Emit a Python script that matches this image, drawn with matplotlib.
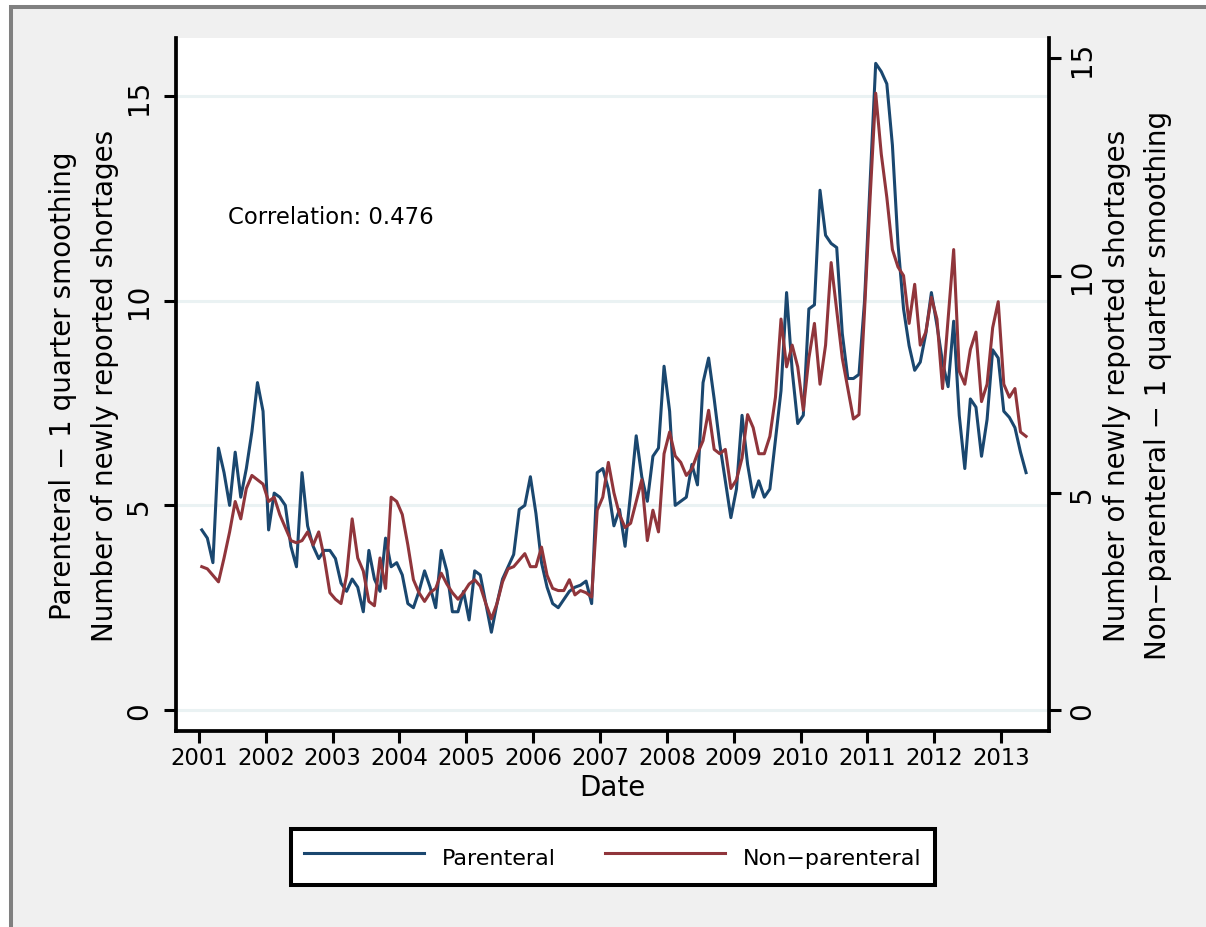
import numpy as np
import matplotlib
matplotlib.use("Agg")
import matplotlib.pyplot as plt
from matplotlib.patches import Rectangle

# ---- data (monthly, Jan 2001 - May 2013) ----
parenteral = [
    4.4, 4.2, 3.6, 6.4, 5.8, 5.0, 6.3, 5.2, 5.9, 6.8, 8.0, 7.3,
    4.4, 5.3, 5.2, 5.0, 4.0, 3.5, 5.8, 4.5, 4.0, 3.7, 3.9, 3.9,
    3.7, 3.1, 2.9, 3.2, 3.0, 2.4, 3.9, 3.2, 2.9, 4.2, 3.5, 3.6,
    3.3, 2.6, 2.5, 2.9, 3.4, 3.0, 2.5, 3.9, 3.4, 2.4, 2.4, 2.9,
    2.2, 3.4, 3.3, 2.6, 1.9, 2.6, 3.2, 3.5, 3.8, 4.9, 5.0, 5.7,
    4.8, 3.6, 3.0, 2.6, 2.5, 2.7, 2.9, 3.0, 3.05, 3.15, 2.6, 5.8,
    5.9, 5.4, 4.5, 4.9, 4.0, 5.3, 6.7, 5.7, 5.1, 6.2, 6.4, 8.4,
    7.3, 5.0, 5.1, 5.2, 6.0, 5.5, 8.0, 8.6, 7.6, 6.5, 5.6, 4.7,
    5.4, 7.2, 6.0, 5.2, 5.6, 5.2, 5.4, 6.6, 7.8, 10.2, 8.3, 7.0,
    7.2, 9.8, 9.9, 12.7, 11.6, 11.4, 11.3, 9.2, 8.1, 8.1, 8.2, 10.0,
    12.9, 15.8, 15.6, 15.3, 13.8, 11.4, 9.8, 8.9, 8.3, 8.5, 9.2, 10.2,
    9.4, 8.5, 7.9, 9.5, 7.2, 5.9, 7.6, 7.4, 6.2, 7.1, 8.8, 8.6,
    7.3, 7.15, 6.9, 6.3, 5.8,
]
non_parenteral = [
    3.3, 3.25, 3.1, 2.95, 3.5, 4.1, 4.8, 4.4, 5.1, 5.4, 5.3, 5.2,
    4.8, 4.9, 4.5, 4.2, 3.9, 3.85, 3.9, 4.1, 3.8, 4.1, 3.5, 2.7,
    2.55, 2.45, 3.1, 4.4, 3.5, 3.2, 2.5, 2.4, 3.5, 2.8, 4.9, 4.8,
    4.5, 3.8, 3.0, 2.7, 2.5, 2.7, 2.8, 3.15, 2.9, 2.7, 2.55, 2.7,
    2.9, 3.0, 2.85, 2.45, 2.1, 2.45, 2.95, 3.25, 3.3, 3.45, 3.6, 3.3,
    3.3, 3.75, 3.1, 2.8, 2.75, 2.75, 3.0, 2.65, 2.75, 2.7, 2.6, 4.6,
    4.9, 5.7, 5.0, 4.5, 4.2, 4.3, 4.8, 5.3, 3.9, 4.6, 4.1, 5.9,
    6.4, 5.85, 5.7, 5.4, 5.55, 5.9, 6.2, 6.9, 6.0, 5.9, 6.0, 5.1,
    5.3, 5.8, 6.8, 6.5, 5.9, 5.9, 6.3, 7.2, 9.0, 7.9, 8.4, 7.9,
    6.9, 8.1, 8.9, 7.5, 8.4, 10.3, 9.2, 8.1, 7.4, 6.7, 6.8, 9.2,
    11.8, 14.2, 12.8, 11.8, 10.6, 10.2, 10.0, 8.9, 9.8, 8.4, 8.7, 9.5,
    9.0, 7.4, 9.0, 10.6, 7.8, 7.5, 8.3, 8.7, 7.1, 7.5, 8.8, 9.4,
    7.5, 7.2, 7.4, 6.4, 6.3,
]
start_year = 2001
year_ticks = list(range(2001, 2014))
y_ticks = [0, 5, 10, 15]
correlation_text = "Correlation: 0.476"
series_labels = ["Parenteral", "Non\u2212parenteral"]

# month mid-points as decimal years
t = start_year + (np.arange(len(parenteral)) + 0.5) / 12.0

W, H = 1206, 928
fig = plt.figure(figsize=(W / 100, H / 100), dpi=100, facecolor="white")

# outer graph region (Stata style)
bg = Rectangle((11 / W, -0.2), 1.5, 1.2 - 8 / H, transform=fig.transFigure,
               facecolor="#F0F0F0", edgecolor="#808080", linewidth=2.9, zorder=-10)
fig.patches.append(bg)

ax1 = fig.add_axes([176 / W, (H - 732) / H, (1049 - 176) / W, (732 - 39) / H])
ax1.set_facecolor("white")
ax2 = ax1.twinx()

navy = "#1A476F"
maroon = "#90353B"

l1, = ax1.plot(t, parenteral, color=navy, lw=2.2, label=series_labels[0],
               solid_joinstyle="round")
l2, = ax2.plot(t, non_parenteral, color=maroon, lw=2.2, label=series_labels[1],
               solid_joinstyle="round")

ax1.set_xlim(2000.656, 2013.718)
ax1.set_ylim(-0.513, 16.42)
ax2.set_ylim(-0.483, 15.47)

ax1.set_xticks(year_ticks)
ax1.set_xticklabels([str(y) for y in year_ticks])
ax1.set_yticks(y_ticks)
ax1.set_yticklabels([str(v) for v in y_ticks])
ax2.set_yticks(y_ticks)
ax2.set_yticklabels([str(v) for v in y_ticks])

ax1.yaxis.grid(True, color="#EAF2F3", linewidth=2.2)
ax1.xaxis.grid(False)
ax1.set_axisbelow(True)

for s in ["top", "right"]:
    ax1.spines[s].set_visible(False)
for s in ["left", "bottom"]:
    ax1.spines[s].set_linewidth(2.7)
for s in ["top", "left", "bottom"]:
    ax2.spines[s].set_visible(False)
ax2.spines["right"].set_linewidth(2.7)

ax1.tick_params(axis="x", direction="out", length=8.6, width=2.2,
                labelsize=16.4, pad=2.5, colors="black")
ax1.tick_params(axis="y", direction="out", length=8.6, width=2.2,
                labelsize=20, pad=8, labelrotation=90, colors="black")
ax2.tick_params(axis="y", direction="out", length=8.6, width=2.2,
                labelsize=20, pad=5, labelrotation=90, colors="black")
for lab in ax1.get_yticklabels():
    lab.set_va("center")
for lab in ax2.get_yticklabels():
    lab.set_va("center")

ax1.set_xlabel("Date", fontsize=20)
ax1.xaxis.set_label_coords(0.5, (732 - 788) / 693)
ax1.xaxis.label.set_va("center")

ax1.set_ylabel("Parenteral \u2212 1 quarter smoothing\nNumber of newly reported shortages",
               fontsize=20, linespacing=1.6)
ax1.yaxis.set_label_coords((84 - 176) / 873, 0.5)
ax1.yaxis.label.set_va("center")

ax2.set_ylabel("Number of newly reported shortages\nNon\u2212parenteral \u2212 1 quarter smoothing",
               fontsize=20, linespacing=1.6, rotation=90)
ax2.yaxis.set_label_coords((1137.5 - 176) / 873, 0.5)
ax2.yaxis.label.set_va("center")

ax1.text((228 - 176) / 873, (732 - 218) / 693, correlation_text,
         transform=ax1.transAxes, ha="left", va="center", fontsize=16.4)

leg = fig.legend(handles=[l1, l2], labels=series_labels, loc="center",
                 bbox_to_anchor=(613 / W, 1 - 858 / H), ncol=2, fontsize=16,
                 frameon=True, fancybox=False, edgecolor="black",
                 facecolor="white", framealpha=1, borderpad=0.6,
                 handlelength=5.4, handletextpad=0.8, columnspacing=2.2,
                 handleheight=1.7)
leg.get_frame().set_linewidth(2.9)

fig.savefig("out.png", dpi=100, facecolor=fig.get_facecolor())
